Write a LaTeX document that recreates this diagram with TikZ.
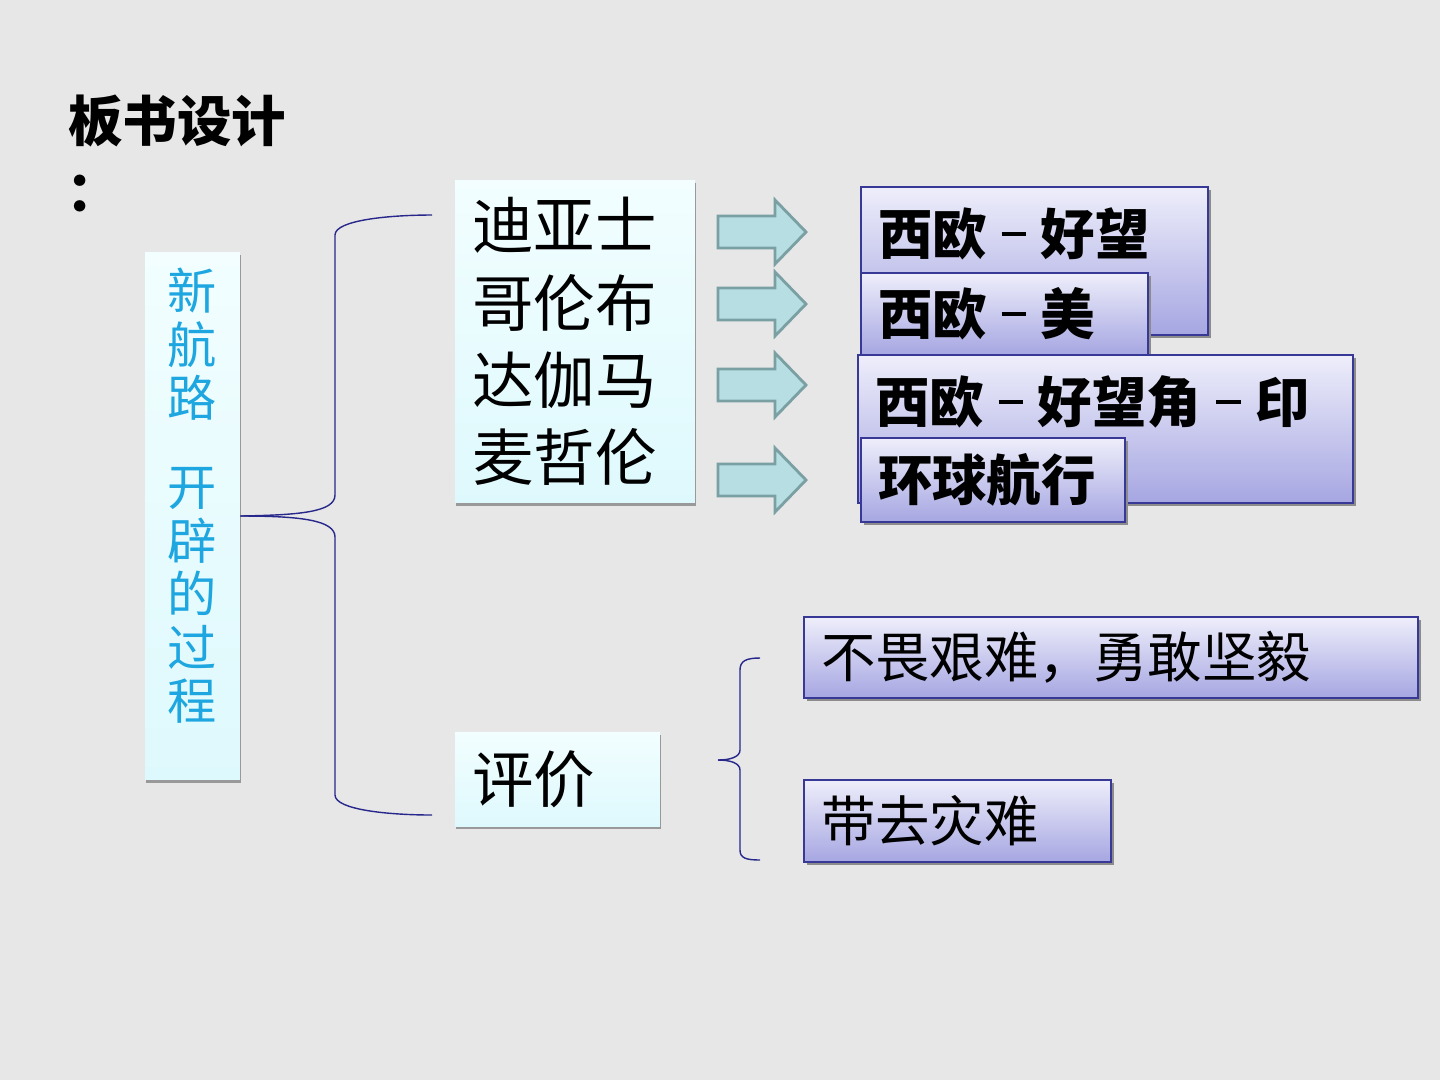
\documentclass[tikz,border=0pt]{standalone}
\usepackage{fontspec}
\setmainfont{Noto Sans CJK SC}
\usetikzlibrary{shadows}

\definecolor{slidebg}{RGB}{231,231,231}
\definecolor{cyantop}{RGB}{242,254,255}
\definecolor{cyanbot}{RGB}{222,249,253}
\definecolor{lavtop}{RGB}{238,238,251}
\definecolor{lavbot}{RGB}{166,166,226}
\definecolor{lavedge}{RGB}{56,56,150}
\definecolor{bracecol}{RGB}{40,40,140}
\definecolor{arrowfill}{RGB}{183,222,226}
\definecolor{arrowedge}{RGB}{122,160,164}
\definecolor{routecyan}{RGB}{30,166,224}

% short dash between places
\newcommand{\rdash}{\hspace{0.27em}\rule[0.34em]{0.45em}{0.08em}\hspace{0.27em}}

\begin{document}
\begin{tikzpicture}[x=0.02cm, y=-0.02cm,
            cyanbox/.style={rectangle, inner sep=0pt, top color=cyantop, bottom color=cyanbot, drop shadow={shadow xshift=0.8pt, shadow yshift=-1.6pt, fill=black!40, opacity=1}},
            namebox/.style={cyanbox, inner xsep=0.34cm, align=left, text width=#1, font=\fontsize{35pt}{44pt}\selectfont},
            routebox/.style={rectangle, draw=lavedge, line width=0.8pt, top color=lavtop, bottom color=lavbot, inner xsep=0.34cm, inner ysep=0pt, align=left, text width=#1, font=\fontsize{31pt}{34pt}\selectfont\bfseries, drop shadow={shadow xshift=1.6pt, shadow yshift=-1.6pt, fill=black!45, opacity=1}},
            evalbox/.style={routebox=#1, font=\fontsize{31pt}{34pt}\selectfont},
            title/.style={inner sep=0pt, anchor=base west, font=\fontsize{31pt}{34pt}\selectfont\bfseries},
            fatarrow/.style={fill=arrowfill, draw=arrowedge, line width=1.6pt, line join=miter},
            brace/.style={draw=bracecol, line width=0.8pt}
        ]

% Background
            \fill[slidebg] (0,0) rectangle (1440,1080);

% Title
            \node[title] (ttl) at (68,141) {板书设计};
            \node[title] (ttlcolon) at (66,211) {：};

% Left column
            \node[cyanbox, minimum width=1.9cm, minimum height=10.56cm] (lbox) at (192.5,516) {};
            \node[inner sep=0pt, align=center, text=routecyan, font=\fontsize{28pt}{30.5pt}\selectfont] (ltext) at (192,496) {新\\航\\路\\[20pt]开\\辟\\的\\过\\程};

% Navigators and evaluation
            \node[namebox=4.12cm, minimum height=6.46cm] (names) at (575,341.5) {迪亚士\\哥伦布\\达伽马\\麦哲伦};
            \node[namebox=3.42cm, minimum height=1.88cm] (pingjia) at (557.5,779) {评价};

% Big brace
            \coordinate (btop) at (432,215);
            \coordinate (bbot) at (432,815);
            \draw[brace] (lbox.east) .. controls (300,515) and (335,512) .. (335,495) -- (335,235) .. controls (335,220) and (390,215) .. (btop);
            \draw[brace] (lbox.east) .. controls (300,516) and (335,520) .. (335,537) -- (335,795) .. controls (335,810) and (390,815) .. (bbot);

% Arrows
            \foreach \y in {232,304,385,480}
                \draw[fatarrow] (718,\y-16) -- (775,\y-16) -- (775,\y-32) -- (806,\y) -- (775,\y+32) -- (775,\y+16) -- (718,\y+16) -- cycle;

% Routes (second line left empty, it sits under the next box)
            \node[routebox=6.26cm, minimum height=2.96cm] (dias) at (1034.5,261) {西欧\rdash 好望\\\mbox{}};
            \node[routebox=5.06cm, minimum height=1.64cm] (colum) at (1004.5,314) {西欧\rdash 美};
            \node[routebox=9.22cm, minimum height=2.96cm] (gama) at (1105.5,429) {西欧\rdash 好望角\rdash 印\\\mbox{}};
            \node[routebox=4.60cm, minimum height=1.68cm] (magel) at (993,480) {环球航行};

% Small brace
            \coordinate (stop) at (760,658);
            \coordinate (sbot) at (760,860);
            \coordinate (stip) at (718,760);
            \draw[brace] (stop) .. controls (746,658) and (740,661) .. (740,670) -- (740,750) .. controls (740,757) and (730,760) .. (stip);
            \draw[brace] (stip) .. controls (730,760) and (740,763) .. (740,770) -- (740,850) .. controls (740,858) and (746,860) .. (sbot);

% Evaluation boxes
            \node[evalbox=11.60cm, minimum height=1.62cm] (brave) at (1111,657.5) {不畏艰难，勇敢坚毅};
            \node[evalbox=5.46cm, minimum height=1.64cm] (harm) at (957.5,821) {带去灾难};

        \end{tikzpicture}
\end{document}
